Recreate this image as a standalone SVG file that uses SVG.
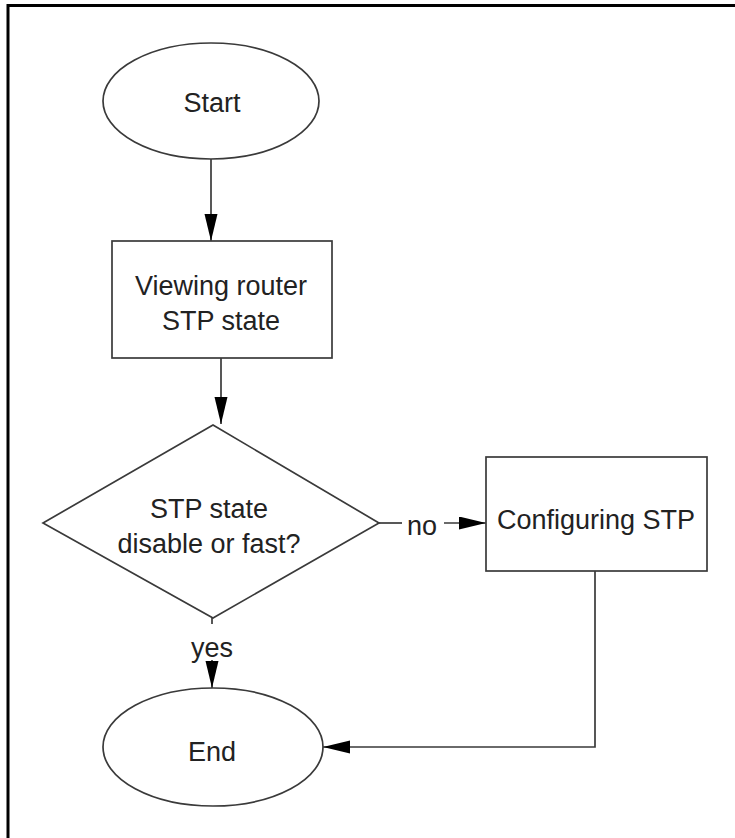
<svg xmlns="http://www.w3.org/2000/svg" width="735" height="838" viewBox="0 0 735 838">
<style>
.shape{fill:#fff;stroke:#3a3a3a;stroke-width:1.7}
.conn{fill:none;stroke:#3a3a3a;stroke-width:1.7}
.t{font-family:"Liberation Sans",Arial,sans-serif;font-size:27px;fill:#222;text-anchor:middle}
.frame{stroke:#000;stroke-width:3;fill:none}
</style>
<defs>
<marker id="ah" markerUnits="userSpaceOnUse" markerWidth="28" markerHeight="14" refX="27" refY="6.5" orient="auto">
<path d="M0,0 L27,6.5 L0,13 Z" fill="#000"/>
</marker>
</defs>
<rect width="735" height="838" fill="#fff"/>
<g id="frame">
<path class="frame" d="M8,838 V5.5 H735"/>
</g>
<g id="connectors">
<line class="conn" x1="211" y1="159" x2="211" y2="241" marker-end="url(#ah)"/>
<line class="conn" x1="221" y1="358" x2="221" y2="424" marker-end="url(#ah)"/>
<line class="conn" x1="379" y1="523" x2="402" y2="523"/>
<line class="conn" x1="444" y1="523" x2="486" y2="523" marker-end="url(#ah)"/>
<line class="conn" x1="212" y1="618" x2="212" y2="624"/>
<line class="conn" x1="212" y1="660" x2="212" y2="688" marker-end="url(#ah)"/>
<path class="conn" d="M595,571 V747 H323" marker-end="url(#ah)"/>
<text class="t" x="422" y="535">no</text>
<text class="t" x="212" y="657">yes</text>
</g>
<g id="start">
<ellipse class="shape" cx="211" cy="101" rx="108" ry="58"/>
<text class="t" x="212" y="112">Start</text>
</g>
<g id="viewing">
<rect class="shape" x="112" y="241" width="220" height="117"/>
<text class="t" x="221" y="295">Viewing router</text>
<text class="t" x="221" y="330">STP state</text>
</g>
<g id="decision">
<polygon class="shape" points="213,425 379,523 213,618 43,523"/>
<text class="t" x="209" y="518">STP state</text>
<text class="t" x="209" y="553">disable or fast?</text>
</g>
<g id="configuring">
<rect class="shape" x="486" y="457" width="221" height="114"/>
<text class="t" x="596" y="529">Configuring STP</text>
</g>
<g id="end">
<ellipse class="shape" cx="213" cy="747" rx="110" ry="59"/>
<text class="t" x="212" y="761">End</text>
</g>
</svg>
